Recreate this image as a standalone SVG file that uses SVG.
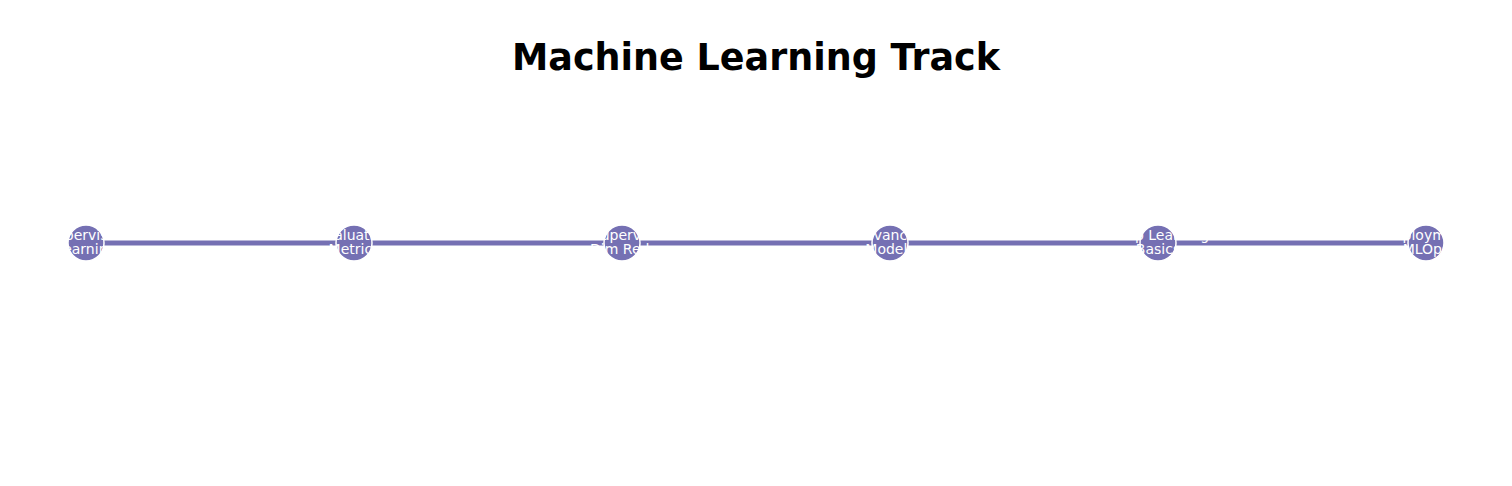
<svg xmlns="http://www.w3.org/2000/svg" width="1512" height="486" viewBox="0 0 1512 486">
<style>
.edge{stroke:#7570b3;stroke-width:5;fill:none}
.node circle{fill:#7570b3;stroke:#ffffff;stroke-width:1.5}
.node text{font-family:"DejaVu Sans",sans-serif;font-size:14px;fill:#ffffff;text-anchor:middle}
.title{font-family:"DejaVu Sans",sans-serif;font-size:36.5px;font-weight:bold;fill:#000000;text-anchor:middle}
</style>
<rect width="1512" height="486" fill="#ffffff"/>
<text class="title" x="756" y="70">Machine Learning Track</text>
<g id="connectors">
<line class="edge" x1="86" y1="243" x2="354" y2="243"/>
<line class="edge" x1="354" y1="243" x2="622" y2="243"/>
<line class="edge" x1="622" y1="243" x2="890" y2="243"/>
<line class="edge" x1="890" y1="243" x2="1158" y2="243"/>
<line class="edge" x1="1158" y1="243" x2="1426" y2="243"/>
</g>
<g id="n1" class="node"><circle cx="86" cy="243" r="18"/><text x="86" y="239.5">Supervised</text><text x="86" y="254">Learning</text></g>
<g id="n2" class="node"><circle cx="354" cy="243" r="18"/><text x="354" y="239.5">Evaluation</text><text x="354" y="254">Metrics</text></g>
<g id="n3" class="node"><circle cx="622" cy="243" r="18"/><text x="622" y="239.5">Unsupervised</text><text x="622" y="254">Dim Red.</text></g>
<g id="n4" class="node"><circle cx="890" cy="243" r="18"/><text x="890" y="239.5">Advanced</text><text x="890" y="254">Models</text></g>
<g id="n5" class="node"><circle cx="1158" cy="243" r="18"/><text x="1158" y="239.5">Deep Learning</text><text x="1158" y="254">Basics</text></g>
<g id="n6" class="node"><circle cx="1426" cy="243" r="18"/><text x="1426" y="239.5">Deployment</text><text x="1426" y="254">MLOps</text></g>
</svg>
